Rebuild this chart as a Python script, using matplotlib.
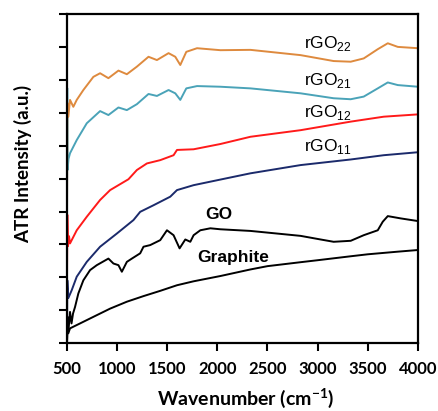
import numpy as np
import matplotlib
matplotlib.use("Agg")
from matplotlib import pyplot as plt

plt.rcParams["mathtext.fontset"] = "custom"
plt.rcParams["mathtext.rm"] = "Liberation Sans"
plt.rcParams["mathtext.bf"] = "Lato:bold"

# wavenumber (cm-1) / intensity (a.u., offset stacked)
graphite_x = [500, 505, 513, 530, 563, 630, 763, 930, 1097, 1263, 1430, 1597, 1763,
              2030, 2330, 2500, 2830, 3000, 3330, 3500, 3800, 4000]
graphite_y = [0.0, 0.55, 0.30, 0.45, 0.50, 0.60, 0.80, 1.05, 1.26, 1.43, 1.59, 1.76, 1.88,
              2.04, 2.24, 2.34, 2.46, 2.52, 2.64, 2.70, 2.78, 2.83]

go_x = [500, 505, 515, 530, 545, 560, 580, 613, 663, 730, 797, 913, 963, 1013, 1047,
        1097, 1147, 1230, 1263, 1330, 1430, 1497, 1563, 1623, 1680, 1730, 1763, 1830,
        1930, 2030, 2330, 2830, 3030, 3160, 3330, 3460, 3600, 3650, 3700, 3830, 4000]
go_y = [0.05, 0.80, 0.40, 0.95, 0.60, 0.90, 1.10, 1.51, 1.91, 2.22, 2.37, 2.57, 2.42, 2.37, 2.17,
        2.47, 2.57, 2.73, 2.93, 2.98, 3.13, 3.43, 3.28, 2.88, 3.15, 3.08, 3.28, 3.43,
        3.49, 3.46, 3.41, 3.26, 3.15, 3.08, 3.11, 3.28, 3.43, 3.69, 3.86, 3.79, 3.71]

rgo11_x = [500, 503, 513, 547, 597, 697, 830, 997, 1163, 1230, 1363, 1530, 1597,
           1763, 2030, 2330, 2830, 3330, 3660, 4000]
rgo11_y = [0.3, 1.91, 1.37, 1.61, 2.02, 2.47, 2.93, 3.33, 3.74, 3.99, 4.19, 4.45, 4.65,
           4.80, 4.97, 5.16, 5.41, 5.58, 5.71, 5.80]

rgo12_x = [500, 503, 510, 520, 530, 597, 697, 830, 930, 1113, 1197, 1297, 1430, 1563,
           1597, 1763, 2030, 2330, 2830, 3330, 3660, 4000]
rgo12_y = [2.0, 3.90, 2.95, 3.25, 3.03, 3.43, 3.84, 4.35, 4.65, 4.98, 5.26, 5.46, 5.56, 5.71,
           5.87, 5.89, 6.05, 6.27, 6.47, 6.73, 6.88, 6.95]

rgo21_x = [500, 502, 505, 515, 530, 597, 697, 830, 913, 1013, 1097, 1197, 1313, 1397,
           1513, 1580, 1630, 1690, 1797, 2030, 2330, 2830, 3160, 3330, 3460, 3600,
           3700, 3800, 4000]
rgo21_y = [3.5, 7.75, 5.26, 5.60, 5.77, 6.17, 6.68, 7.05, 6.93, 7.16, 7.08, 7.26, 7.57, 7.51,
           7.69, 7.59, 7.39, 7.74, 7.81, 7.79, 7.74, 7.59, 7.44, 7.41, 7.49, 7.74,
           7.92, 7.84, 7.79]

rgo22_x = [500, 503, 513, 530, 563, 597, 663, 763, 830, 913, 1013, 1097, 1197, 1313,
           1397, 1513, 1580, 1630, 1690, 1797, 2030, 2330, 2830, 3160, 3330, 3460,
           3600, 3700, 3800, 4000]
rgo22_y = [4.0, 7.30, 6.88, 7.39, 7.18, 7.39, 7.69, 8.09, 8.20, 8.05, 8.28, 8.17, 8.40, 8.70,
           8.60, 8.81, 8.70, 8.45, 8.85, 8.96, 8.90, 8.91, 8.75, 8.57, 8.55, 8.65,
           8.93, 9.11, 9.00, 8.96]

x_ticks = [500, 1000, 1500, 2000, 2500, 3000, 3500, 4000]

series = [
    (graphite_x, graphite_y, "black"),
    (go_x, go_y, "black"),
    (rgo11_x, rgo11_y, "#1b2a6b"),
    (rgo12_x, rgo12_y, "#ff1a1a"),
    (rgo21_x, rgo21_y, "#4aa3b8"),
    (rgo22_x, rgo22_y, "#de8a3e"),
]

fig = plt.figure(figsize=(4.38, 4.11), dpi=100)
ax = fig.add_axes([0.153, 0.165, 0.801, 0.801])

for xs, ys, c in series:
    ax.plot(xs, ys, color=c, lw=1.4)

ax.set_xlim(500, 4000)
ax.set_ylim(0, 10)
ax.set_xticks(x_ticks)
ax.set_yticks(np.arange(0, 11, 1))
ax.set_yticklabels([])
for s in ax.spines.values():
    s.set_linewidth(1.6)
ax.tick_params(direction="out", length=6, width=1.5)
ax.tick_params(axis="x", pad=7)
for lab in ax.get_xticklabels():
    lab.set_fontfamily("Lato")
    lab.set_fontweight("bold")
    lab.set_fontsize(12)

ax.set_xlabel("Wavenumber (cm$^{\\mathbf{-1}}$)", family="Lato", weight="bold",
              fontsize=14)
ax.xaxis.set_label_coords(0.51, -0.13)
ax.set_ylabel("ATR Intensity (a.u.)", family="Lato", weight="bold", fontsize=13.5)
ax.yaxis.set_label_coords(-0.10, 0.544)

lbl = dict(family="Liberation Sans", fontsize=12.5, va="baseline")
ax.text(2860, 8.97, "rGO$_{22}$", **lbl)
ax.text(2860, 7.84, "rGO$_{21}$", **lbl)
ax.text(2860, 6.87, "rGO$_{12}$", **lbl)
ax.text(2860, 5.84, "rGO$_{11}$", **lbl)
ax.text(1880, 3.77, "GO", weight="bold", **lbl)
ax.text(1800, 2.46, "Graphite", weight="bold", **lbl)

fig.savefig("out.png", dpi=100)
